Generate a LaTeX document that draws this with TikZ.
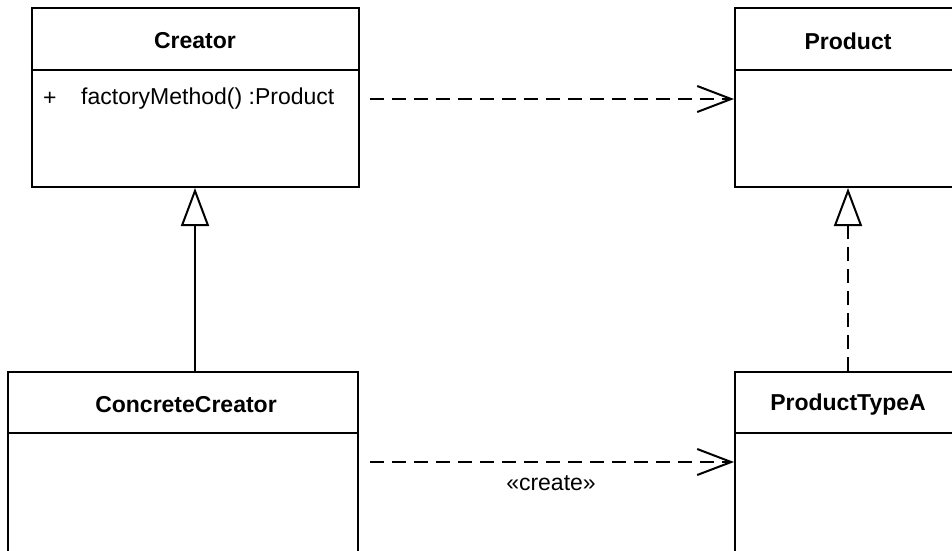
\documentclass[tikz,border=0pt]{standalone}
\usepackage{fontspec}
\setmainfont{Liberation Sans}
\usetikzlibrary{arrows.meta}
\begin{document}
\begin{tikzpicture}[x=1pt,y=-1pt,
  classbox/.style={draw=black, line width=2pt, rectangle, inner sep=0pt},
  classtitle/.style={font=\fontsize{23}{27}\selectfont\bfseries, inner sep=0pt},
  member/.style={font=\fontsize{23}{27}\selectfont, inner sep=0pt, anchor=west},
  divider/.style={line width=1.6pt},
  dep/.style={line width=2pt, dash pattern=on 14pt off 8pt,
    -{Straight Barb[length=34pt, width=26pt, line width=2pt]}},
  gen/.style={line width=2pt,
    -{Triangle[open, length=38pt, width=28pt, line width=2pt]}},
  real/.style={gen, dash pattern=on 14pt off 8pt}]
  \useasboundingbox (0,0) rectangle (952,550);
  \clip (0,0) rectangle (952,550);

  % class boxes
  \node[classbox, minimum width=327pt, minimum height=179pt] (creator) at (195,97.5) {};
  \node[classbox, minimum width=226pt, minimum height=179pt] (product) at (848,97.5) {};
  \node[classbox, minimum width=350pt, minimum height=200pt] (concrete) at (183,472) {};
  \node[classbox, minimum width=226pt, minimum height=200pt] (typea) at (848,472) {};

  % header compartments
  \draw[divider] (creator.west |- 0,70) -- (creator.east |- 0,70);
  \draw[divider] (product.west |- 0,70) -- (product.east |- 0,70);
  \draw[divider] (concrete.west |- 0,433) -- (concrete.east |- 0,433);
  \draw[divider] (typea.west |- 0,433) -- (typea.east |- 0,433);

  % class names
  \node[classtitle] (creatorname) at (195,41) {Creator};
  \node[classtitle] (productname) at (848,41) {Product};
  \node[classtitle] (concretename) at (186,405) {ConcreteCreator};
  \node[classtitle] (typeaname) at (848,405) {ProductTypeA};

  % operations
  \node[member] (vis) at (43,99) {+};
  \node[member] (op) at (81,99) {factoryMethod() :Product};

  % dependencies
  \draw[dep] ([xshift=10pt]creator.east |- vis) -- (product.west |- vis);
  \coordinate (createrow) at (0,462);
  \draw[dep] ([xshift=11pt]concrete.east |- createrow) -- (typea.west |- createrow);
  \node[font=\fontsize{23}{27}\selectfont, inner sep=0pt] (createlabel) at (551,483) {«create»};

  % inheritance and realization
  \draw[gen] (creator.south |- concrete.north) -- (creator.south);
  \draw[real] (product.south |- typea.north) -- (product.south);
\end{tikzpicture}
\end{document}
